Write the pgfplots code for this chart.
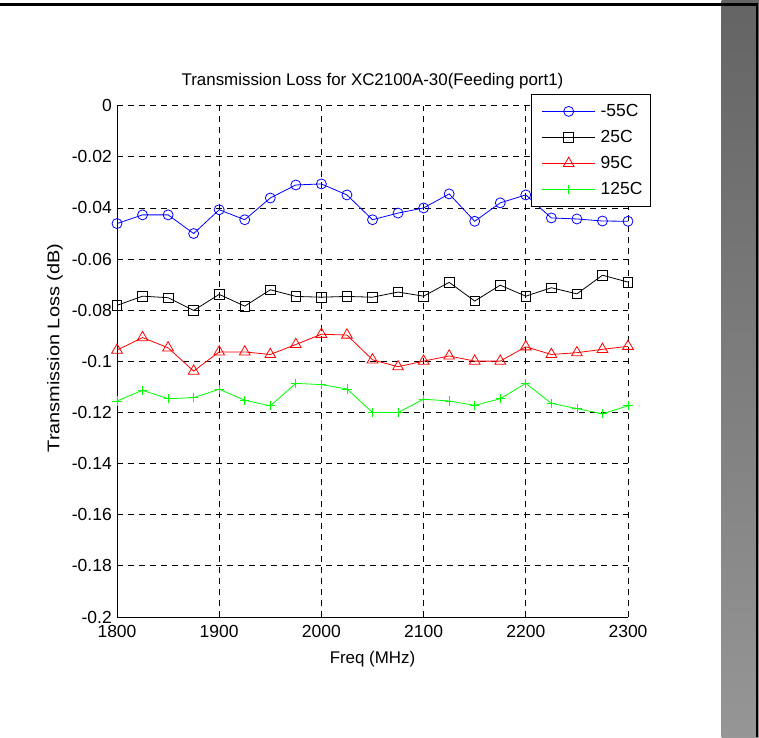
\documentclass[border=0pt]{standalone}
\usepackage{fontspec}
\setmainfont{Liberation Sans}
\newfontfamily\yfont{Liberation Sans}[FakeStretch=1.18]
\usepackage{pgfplots}
\pgfplotsset{compat=1.18}
\definecolor{gtop}{RGB}{100,100,100}
\definecolor{gbot}{RGB}{150,150,150}
\definecolor{mblue}{RGB}{0,0,255}
\definecolor{mred}{RGB}{255,0,0}
\definecolor{mgreen}{RGB}{0,255,0}
\newcommand\f{\fontsize{16.9}{20}\selectfont}
\newcommand\ft{\fontsize{17.5}{21}\selectfont}
\newcommand\fy{\yfont\fontsize{16.9}{20}\selectfont}
\newcommand\legtxt[1]{\makebox[40pt][l]{#1}}
\begin{document}
\begin{tikzpicture}
\path[use as bounding box] (0,0) rectangle (759pt,-737pt);
\fill[white] (0,0) rectangle (759pt,-737pt);
\shade[top color=gtop, bottom color=gbot] (721.7pt,0) rectangle (759pt,-737pt);
\draw[line width=2.3pt] (0,-4.5pt) -- (757.9pt,-4.5pt);
\draw[line width=2.5pt] (756.8pt,-3.4pt) -- (756.8pt,-737pt);
\begin{axis}[
  at={(117pt,-617pt)}, anchor=south west,
  width=511pt, height=511.3pt, scale only axis,
  xmin=1800, xmax=2300, ymin=-0.2, ymax=0,
  axis x line*=bottom, axis y line*=left,
  axis line style={-, line width=0.8pt},
  xtick={1800,1900,2000,2100,2200,2300},
  xticklabels={1800,1900,2000,2100,2200,2300},
  ytick={-0.2,-0.18,-0.16,-0.14,-0.12,-0.1,-0.08,-0.06,-0.04,-0.02,0},
  yticklabels={-0.2,-0.18,-0.16,-0.14,-0.12,-0.1,-0.08,-0.06,-0.04,-0.02,0},
  scaled ticks=false,
  tick align=inside, major tick length=5pt,
  tick style={black, line width=0.8pt},
  grid=major,
  major grid style={black, line width=0.8pt, dash pattern=on 6pt off 5pt},
  xticklabel style={font=\ft, inner sep=0pt, anchor=north, yshift=-8pt},
  yticklabel style={font=\ft, inner sep=0pt, anchor=east, xshift=-5pt},
  title={Transmission Loss for XC2100A-30(Feeding port1)},
  title style={font=\f, at={(axis description cs:0.5,1.0275)}, anchor=base, inner sep=0pt},
  xlabel={Freq (MHz)},
  xlabel style={font=\f, at={(axis description cs:0.5,-0.09)}, anchor=base, inner sep=0pt},
  ylabel={Transmission Loss (dB)},
  ylabel style={font=\fy, at={(axis description cs:-0.1213,0.526)}, anchor=center, inner sep=0pt},
  legend style={font=\ft, at={(axis description cs:1.045,1.0229)}, anchor=north east,
    draw=black, line width=0.8pt, fill=white, inner xsep=10pt, inner ysep=4pt,
    row sep=0pt, column sep=5pt,
    nodes={inner sep=0pt, minimum height=26pt}},
  legend cell align=left,
  legend image code/.code={\draw[mark repeat=2,mark phase=2] plot coordinates {(0pt,0pt) (26.5pt,0pt) (53pt,0pt)};},
]
\addplot[color=mblue, line width=0.8pt, mark=o, mark size=5pt] coordinates {
(1800,-0.0461) (1825,-0.0427) (1850,-0.0427) (1875,-0.0500) (1900,-0.0407)
(1925,-0.0446) (1950,-0.0361) (1975,-0.0310) (2000,-0.0306) (2025,-0.0349)
(2050,-0.0446) (2075,-0.0420) (2100,-0.0400) (2125,-0.0345) (2150,-0.0452)
(2175,-0.0380) (2200,-0.0349) (2225,-0.0439) (2250,-0.0443) (2275,-0.0451)
(2300,-0.0452)};
\addlegendentry{\legtxt{-55C}}
\addplot[color=black, line width=0.8pt, mark=square, mark size=4.8pt] coordinates {
(1800,-0.0781) (1825,-0.0745) (1850,-0.0751) (1875,-0.0801) (1900,-0.0738)
(1925,-0.0784) (1950,-0.0720) (1975,-0.0746) (2000,-0.0749) (2025,-0.0746)
(2050,-0.0749) (2075,-0.0729) (2100,-0.0745) (2125,-0.0691) (2150,-0.0764)
(2175,-0.0702) (2200,-0.0745) (2225,-0.0712) (2250,-0.0736) (2275,-0.0663)
(2300,-0.0690)};
\addlegendentry{\legtxt{25C}}
\addplot[color=mred, line width=0.8pt, mark=triangle, mark size=6.2pt] coordinates {
(1800,-0.0956) (1825,-0.0907) (1850,-0.0947) (1875,-0.1038) (1900,-0.0963)
(1925,-0.0963) (1950,-0.0973) (1975,-0.0934) (2000,-0.0894) (2025,-0.0897)
(2050,-0.0994) (2075,-0.1021) (2100,-0.0999) (2125,-0.0979) (2150,-0.0999)
(2175,-0.0999) (2200,-0.0943) (2225,-0.0973) (2250,-0.0966) (2275,-0.0953)
(2300,-0.0941)};
\addlegendentry{\legtxt{95C}}
\addplot[color=mgreen, line width=0.8pt, mark=+, mark size=4.6pt] coordinates {
(1800,-0.1155) (1825,-0.1113) (1850,-0.1146) (1875,-0.1142) (1900,-0.1109)
(1925,-0.1152) (1950,-0.1174) (1975,-0.1086) (2000,-0.1091) (2025,-0.1108)
(2050,-0.1200) (2075,-0.1200) (2100,-0.1148) (2125,-0.1155) (2150,-0.1172)
(2175,-0.1146) (2200,-0.1086) (2225,-0.1164) (2250,-0.1185) (2275,-0.1205)
(2300,-0.1174)};
\addlegendentry{\legtxt{125C}}
\end{axis}
\end{tikzpicture}
\end{document}
